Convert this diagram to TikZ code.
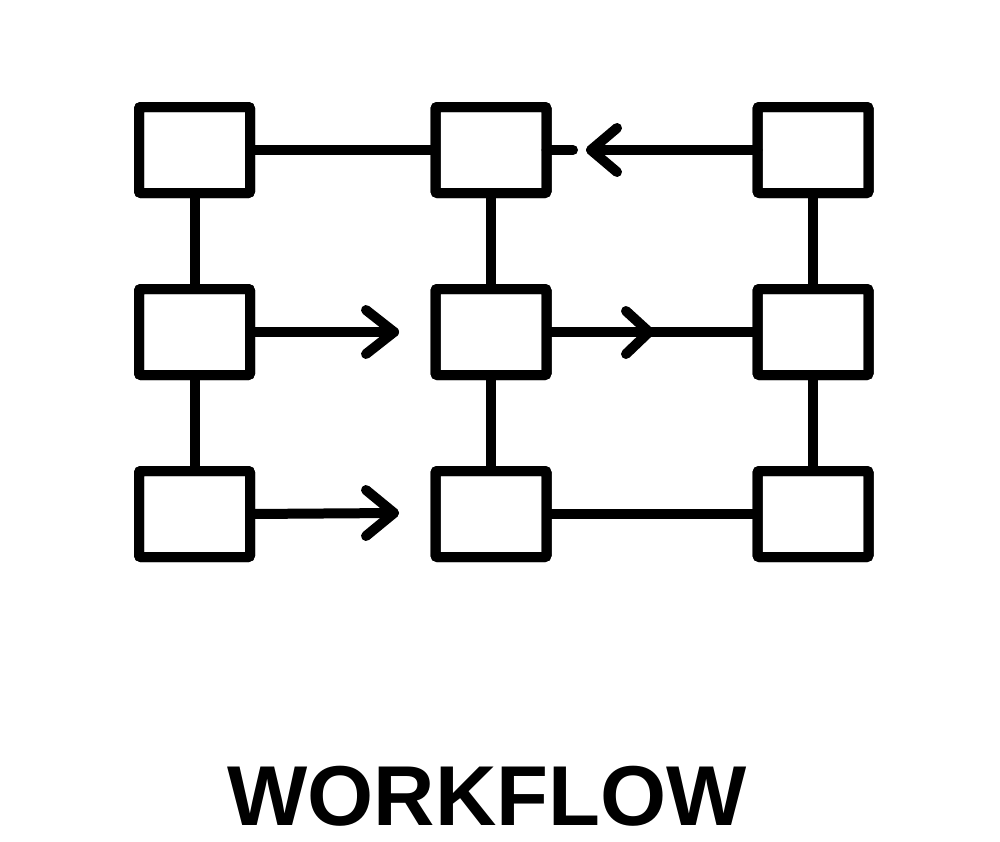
\documentclass[tikz,border=0pt]{standalone}
\usepackage{fontspec}
\setmainfont{Liberation Sans}
\usetikzlibrary{calc}
\begin{document}
\begin{tikzpicture}[x=1pt,y=-1pt,
  box/.style={draw=black,fill=white,line width=10pt,minimum width=111pt,minimum height=86pt,inner sep=0pt,outer sep=0pt,rounded corners=2pt},
  conn/.style={draw=black,line width=10pt,line cap=butt},
  stub/.style={draw=black,line width=10pt,line cap=round},
  chev/.style={draw=black,line width=10pt,line cap=round,line join=round},
  title/.style={inner sep=0pt,font=\fontsize{85}{85}\selectfont\bfseries}]
\fill[white] (0,0) rectangle (1000,841);
\useasboundingbox (0,0) rectangle (1000,841);
% boxes
\node[box] (a11) at (194.5,150) {};
\node[box] (a12) at (491,150) {};
\node[box] (a13) at (813,150) {};
\node[box] (a21) at (194.5,332) {};
\node[box] (a22) at (491,332) {};
\node[box] (a23) at (813,332) {};
\node[box] (a31) at (194.5,514) {};
\node[box] (a32) at (491,514) {};
\node[box] (a33) at (813,514) {};
% helper coordinates
\coordinate (s1) at (573,150);
\coordinate (t1) at (591,150);
\coordinate (t2) at (394,332);
\coordinate (m2) at (649,332);
\coordinate (t3) at (394,513);
% verticals
\draw[conn] (a11) -- (a21);
\draw[conn] (a21) -- (a31);
\draw[conn] (a12) -- (a22);
\draw[conn] (a22) -- (a32);
\draw[conn] (a13) -- (a23);
\draw[conn] (a23) -- (a33);
% row 1
\draw[conn] (a11.east) -- (a12.west);
\draw[stub] (a12.east) -- (s1);
\draw[stub] (a13.west) -- (t1);
\draw[chev] ($(t1)+(26,-22)$) -- (t1) -- ($(t1)+(26,22)$);
% row 2
\draw[stub] (a21.east) -- (t2);
\draw[chev] ($(t2)+(-28,-22)$) -- (t2) -- ($(t2)+(-28,22)$);
\draw[conn] (a22.east) -- (a23.west);
\draw[chev] ($(m2)+(-23,-21)$) -- (m2) -- ($(m2)+(-23,22)$);
% row 3
\draw[stub] (a31.east) -- (t3);
\draw[chev] ($(t3)+(-28,-23)$) -- (t3) -- ($(t3)+(-28,23)$);
\draw[conn] (a32.east) -- (a33.west);
% box outlines on top of the connectors
\foreach \n in {a11,a12,a13,a21,a22,a23,a31,a32,a33}{
  \draw[line width=10pt,rounded corners=2pt] (\n.north west) rectangle (\n.south east);
}
% title
\node[title] (ttl) at (487,796.5) {WORKFLOW};
\end{tikzpicture}
\end{document}
